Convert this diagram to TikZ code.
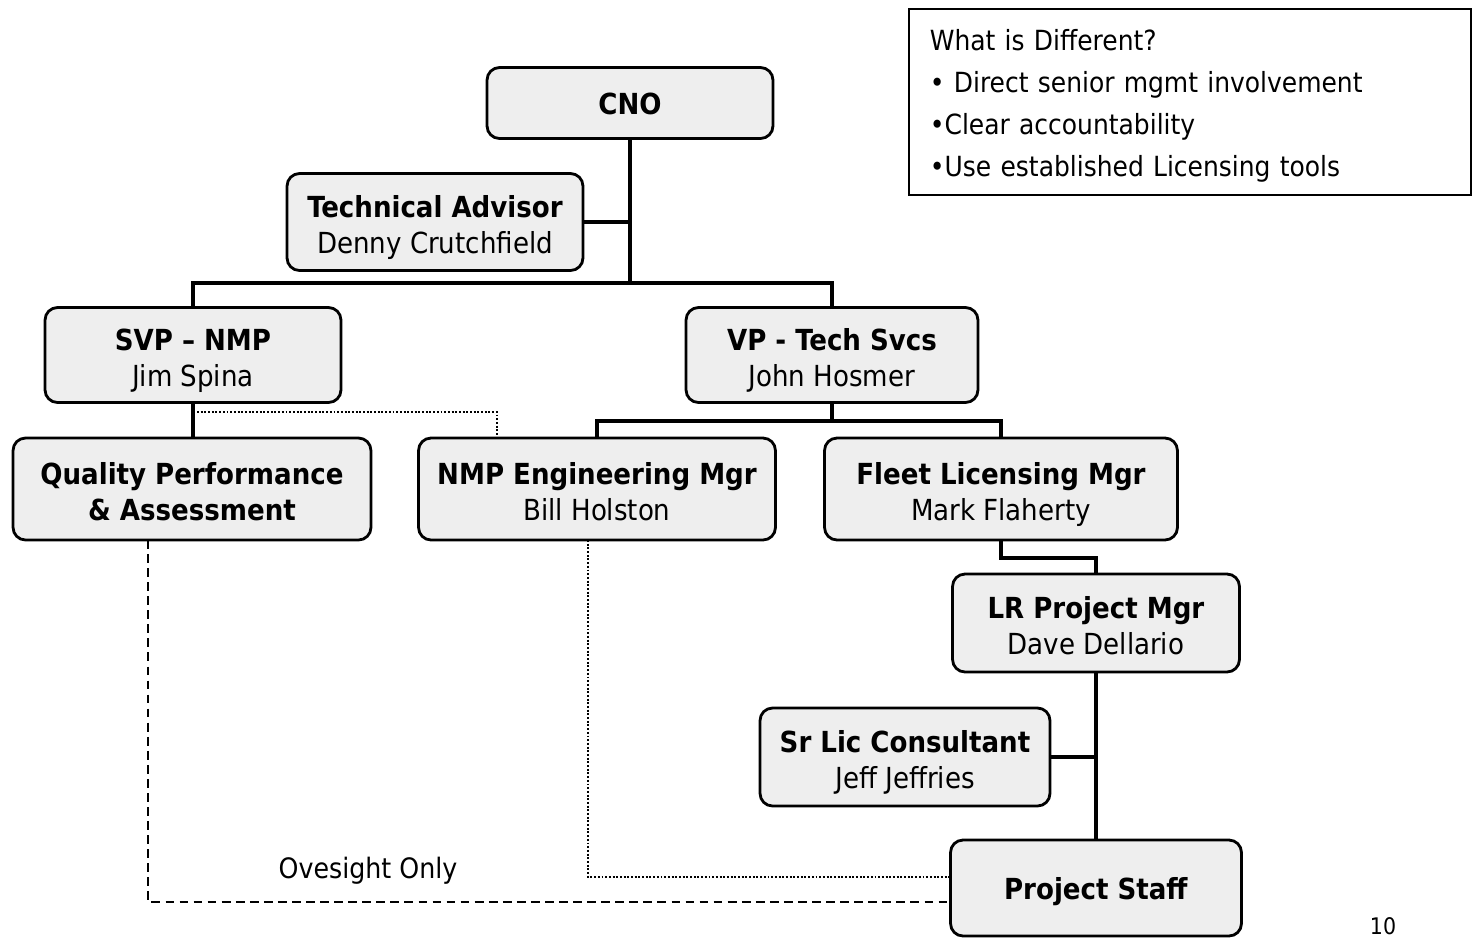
\documentclass[tikz,border=0pt]{standalone}
\usepackage{fontspec}
\setmainfont{DejaVu Sans Condensed}
\newcommand{\topstrut}{\rule{0pt}{21pt}}

\begin{document}
\begin{tikzpicture}[x=0.02cm,y=-0.02cm,
	orgbox/.style={draw, line width=1.6pt, rounded corners=0.25cm, fill=gray!13, align=center, inner sep=0pt, font=\fontsize{16.5}{20.4}\selectfont, execute at begin node=\rule{0pt}{19.5pt}, execute at end node=\rule[-6.1pt]{0pt}{0pt}},
	mainlink/.style={line width=2.3pt},
	dotlink/.style={line width=1.1pt, densely dotted},
	dashlink/.style={line width=1.4pt, dash pattern=on 5pt off 3pt}]
	\useasboundingbox (0,0) rectangle (1472,938);

	\node at (630,103) [orgbox, minimum width=5.72cm, minimum height=1.42cm] (cno) {\textbf{CNO}};
	\node at (435,222) [orgbox, minimum width=5.92cm, minimum height=1.94cm] (tech) {\topstrut\textbf{Technical Advisor}\\Denny Crutchfield};
	\node at (193,355) [orgbox, minimum width=5.92cm, minimum height=1.90cm] (svp) {\topstrut\textbf{SVP -- NMP}\\Jim Spina};
	\node at (832,355) [orgbox, minimum width=5.84cm, minimum height=1.90cm] (vp) {\topstrut\textbf{VP - Tech Svcs}\\John Hosmer};
	\node at (192,489) [orgbox, minimum width=7.16cm, minimum height=2.04cm] (qpa) {\topstrut\textbf{Quality Performance}\\\textbf{\& Assessment}};
	\node at (597,489) [orgbox, minimum width=7.14cm, minimum height=2.04cm] (nmp) {\topstrut\textbf{NMP Engineering Mgr}\\Bill Holston};
	\node at (1001,489) [orgbox, minimum width=7.06cm, minimum height=2.04cm] (fleet) {\topstrut\textbf{Fleet Licensing Mgr}\\Mark Flaherty};
	\node at (1096,623) [orgbox, minimum width=5.74cm, minimum height=1.96cm] (lr) {\topstrut\textbf{LR Project Mgr}\\Dave Dellario};
	\node at (905,757) [orgbox, minimum width=5.80cm, minimum height=1.96cm] (srlic) {\topstrut\textbf{Sr Lic Consultant}\\Jeff Jeffries};
	\node at (1096,888) [orgbox, minimum width=5.82cm, minimum height=1.92cm] (staff) {\textbf{Project Staff}};

	\node at (908,8) [draw, line width=1pt, anchor=north west, minimum width=11.24cm, minimum height=3.72cm, text width=10.4cm, align=left, inner xsep=0.42cm, font=\fontsize{15.8}{23.8}\selectfont] (diff) {\rule{0pt}{16.7pt}What is Different?\\• Direct senior mgmt involvement\\•Clear accountability\\•Use established Licensing tools};

	\coordinate (bar1) at (630,283);
	\coordinate (bar2) at (832,421);
	\coordinate (bar3) at (1001,558);
	\coordinate (dot1) at (197,412);
	\coordinate (dot2) at (497,412);

	\draw [mainlink] (cno.south) -- (bar1);
	\draw [mainlink] (tech.east) -- (tech.east -| bar1);
	\draw [mainlink] (svp.north) -- (svp.north |- bar1) -- (vp.north |- bar1) -- (vp.north);
	\draw [mainlink] (svp.south) -- (svp.south |- qpa.north);
	\draw [mainlink] (vp.south) -- (bar2);
	\draw [mainlink] (nmp.north) -- (nmp.north |- bar2) -- (fleet.north |- bar2) -- (fleet.north);
	\draw [mainlink] (fleet.south) -- (bar3) -- (bar3 -| lr.north) -- (lr.north);
	\draw [mainlink] (lr.south) -- (staff.north);
	\draw [mainlink] (srlic.east) -- (srlic.east -| lr.south);

	\draw [dotlink] (dot1) -- (dot2) -- (dot2 |- nmp.north);
	\draw [dotlink] (588,540) -- (588,877) -- (staff.west |- 0,877);
	\draw [dashlink] (148,540) -- (148,902) -- (staff.west |- 0,902);

	\node at (368,871) [font=\fontsize{16}{19}\selectfont] (oversight) {Ovesight Only};
	\node at (1383,926) [font=\fontsize{13}{15}\selectfont, inner sep=1pt] (page) {10};
\end{tikzpicture}
\end{document}
